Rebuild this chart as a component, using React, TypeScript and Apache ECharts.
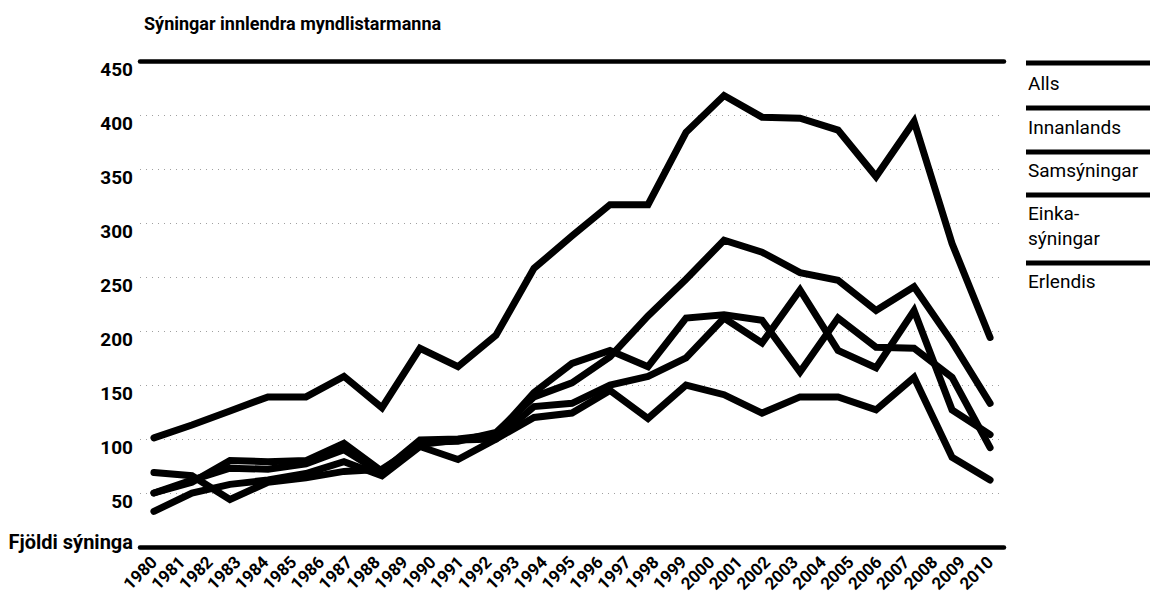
import { useEffect, useRef } from 'react';
import * as echarts from 'echarts';

const years = ['1980','1981','1982','1983','1984','1985','1986','1987','1988','1989','1990','1991','1992','1993','1994','1995','1996','1997','1998','1999','2000','2001','2002','2003','2004','2005','2006','2007','2008','2009','2010'];

// plotted points (evenly spread over the 1980–2010 span, as in the source graphic)
const alls = [101, 113, 126, 139, 139, 158, 129, 184, 167, 196, 258, 288, 317, 317, 384, 418, 398, 397, 386, 343, 394, 281, 194];
const innanlands = [50, 62, 73, 72, 77, 90, 68, 97, 98, 106, 139, 152, 176, 214, 248, 284, 273, 254, 247, 219, 241, 190, 133];
const samsyningar = [50, 60, 80, 79, 80, 96, 70, 99, 100, 104, 143, 170, 182, 167, 212, 215, 210, 162, 212, 185, 184, 157, 92];
const einkasyningar = [33, 50, 58, 62, 68, 79, 66, 93, 81, 100, 130, 133, 150, 158, 175, 212, 189, 238, 182, 166, 219, 127, 104];
const erlendis = [69, 66, 44, 60, 64, 70, 72, 95, 99, 100, 120, 124, 145, 119, 150, 141, 124, 139, 139, 127, 157, 83, 62];

const seriesNames = ['Alls', 'Innanlands', 'Samsýningar', 'Einka-\nsýningar', 'Erlendis'];
const seriesData = [alls, innanlands, samsyningar, einkasyningar, erlendis];
const chartTitle = 'Sýningar innlendra myndlistarmanna';
const zeroLabel = 'Fjöldi sýninga';
const yMax = 450;
const yStep = 50;

const FONT = "Roboto, 'DejaVu Sans Condensed', 'Liberation Sans Narrow', sans-serif";

export default function App() {
  const ref = useRef<HTMLDivElement>(null);
  useEffect(() => {
    if (!ref.current) return;
    const chart = echarts.init(ref.current, null, { renderer: 'svg' });
    const nPts = alls.length;
    const pad = (nPts - 1) / (years.length - 1) / 2;

    const legendLineY = [63, 108, 152, 195, 263];
    const legendTextY = [83, 127, 170, 226, 281];
    const graphics: any[] = [];
    seriesNames.forEach((name, i) => {
      graphics.push({
        type: 'line',
        shape: { x1: 1026, y1: legendLineY[i], x2: 1150, y2: legendLineY[i] },
        style: { stroke: '#000', lineWidth: 5 },
        silent: true,
      });
      graphics.push({
        type: 'text',
        x: 1028,
        y: legendTextY[i],
        style: {
          text: name,
          fill: '#000',
          font: `19px ${FONT}`,
          lineHeight: 25,
          textAlign: 'left',
          textVerticalAlign: 'middle',
        },
        silent: true,
      });
    });

    chart.setOption({
      animation: false,
      backgroundColor: '#fff',
      title: {
        text: chartTitle,
        left: 139,
        top: 9,
        textStyle: { fontFamily: FONT, fontSize: 18, fontWeight: 'bold', color: '#000' },
      },
      grid: { left: 140, right: 146, top: 61, bottom: 49, containLabel: false },
      xAxis: [
        {
          type: 'category',
          data: years,
          boundaryGap: true,
          position: 'bottom',
          axisLine: { show: true, lineStyle: { color: '#000', width: 4.5 } },
          axisTick: { show: false },
          splitLine: { show: false },
          axisLabel: {
            rotate: 45,
            interval: 0,
            margin: 12,
            color: '#000',
            fontFamily: FONT,
            fontSize: 17,
            fontWeight: 'bold',
          },
        },
        {
          type: 'category',
          data: years,
          boundaryGap: true,
          position: 'top',
          axisLine: { show: true, lineStyle: { color: '#000', width: 4.5 } },
          axisTick: { show: false },
          axisLabel: { show: false },
          splitLine: { show: false },
        },
        {
          type: 'value',
          min: -pad,
          max: nPts - 1 + pad,
          show: false,
          splitLine: { show: false },
        },
      ],
      yAxis: {
        type: 'value',
        min: 0,
        max: yMax,
        interval: yStep,
        axisLine: { show: false },
        axisTick: { show: false },
        splitLine: { show: true, lineStyle: { color: '#a0a0a0', width: 1, type: [1, 5] } },
        axisLabel: {
          margin: 7,
          verticalAlign: 'middle',
          formatter: (v: number) => (v === 0 ? `{z|${zeroLabel}}` : `{n|${v}}`),
          rich: {
            n: { fontFamily: FONT, fontSize: 19, fontWeight: 'bold', color: '#000', padding: [16, 0, 0, 0] },
            z: { fontFamily: FONT, fontSize: 20, fontWeight: 'bold', color: '#000', padding: [0, 0, 10, 0] },
          },
        },
      },
      series: seriesData.map((d, i) => ({
        name: seriesNames[i],
        type: 'line',
        xAxisIndex: 2,
        data: d.map((v, k) => [k, v]),
        symbol: 'none',
        lineStyle: { color: '#000', width: 7, join: 'miter', cap: 'round' },
        z: 3,
      })),
      graphic: graphics,
    });
    return () => chart.dispose();
  }, []);
  return <div ref={ref} style={{ position: 'fixed', left: 0, top: 0, width: 1150, height: 596, background: '#fff' }} />;
}
